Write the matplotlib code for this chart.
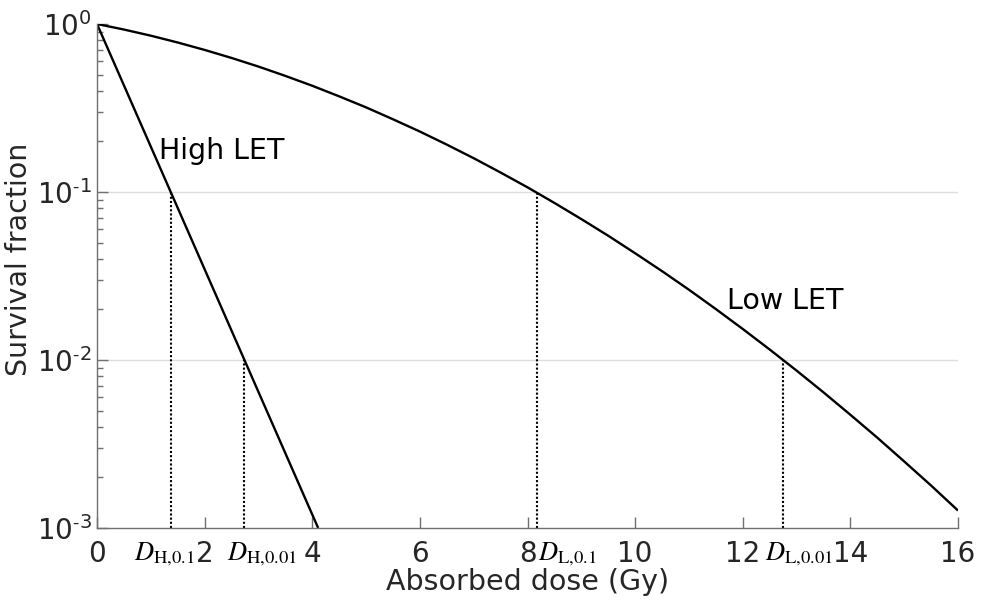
import numpy as np
import matplotlib
matplotlib.use("Agg")
import matplotlib.pyplot as plt
from matplotlib.ticker import FixedLocator, FixedFormatter, LogLocator, NullFormatter

plt.rcParams['font.family'] = 'DejaVu Sans'
plt.rcParams['mathtext.fontset'] = 'stix'

# low LET survival curve (shouldered), read every 0.5 Gy
dose_low = [0, 0.5, 1, 1.5, 2, 2.5, 3, 3.5, 4, 4.5, 5, 5.5, 6, 6.5, 7, 7.5, 8,
            8.5, 9, 9.5, 10, 10.5, 11, 11.5, 12, 12.5, 13, 13.5, 14, 14.5, 15,
            15.5, 16]
surv_low = [1.0, 0.927, 0.852, 0.776, 0.701, 0.628, 0.558, 0.491, 0.429, 0.371,
            0.319, 0.271, 0.229, 0.1915, 0.1589, 0.1306, 0.1066, 0.0861, 0.0690,
            0.0549, 0.0432, 0.0338, 0.0262, 0.0201, 0.0153, 0.01155, 0.00865,
            0.00642, 0.00472, 0.00345, 0.00249, 0.00179, 0.00127]

# high LET: straight line on the log axis
dose_high = [0, 4.11]
surv_high = [1.0, 1e-3]

# doses giving 10% and 1% survival
levels = [0.1, 0.01]
dose_h_marks = [1.37, 2.74]
dose_l_marks = [8.18, 12.75]
mark_labels = [r'$D_{\mathrm{H{,}0.1}}$', r'$D_{\mathrm{H{,}0.01}}$',
               r'$D_{\mathrm{L{,}0.1}}$', r'$D_{\mathrm{L{,}0.01}}$']
mark_label_x = [1.25, 3.07, 8.74, 13.05]

y_ticks = [1e-3, 1e-2, 1e-1, 1]
y_ticklabels = [r'$\mathdefault{10^{\text{-}3}}$', r'$\mathdefault{10^{\text{-}2}}$',
                r'$\mathdefault{10^{\text{-}1}}$', r'$\mathdefault{10^{0}}$']

axcol = '#707070'
txtcol = '#262626'

fig = plt.figure(figsize=(9.83, 6.03), dpi=100)
ax = fig.add_axes([97/983, 1-528/603, (958-97)/983, (528-24)/603])

for lv in levels:
    ax.axhline(lv, color='#dedede', lw=1.0, zorder=0)

for d, lv in zip(dose_h_marks + dose_l_marks, levels + levels):
    ax.plot([d, d], [1e-3, lv], color='black', ls=(0, (1, 1)), lw=1.5)

ax.plot(dose_low, surv_low, color='black', lw=1.7, solid_capstyle='butt')
ax.plot(dose_high, surv_high, color='black', lw=1.7, solid_capstyle='butt')

ax.set_yscale('log')
ax.set_xlim(0, 16)
ax.set_ylim(1e-3, 1)
ax.set_xticks(np.arange(0, 17, 2))
ax.yaxis.set_major_locator(FixedLocator(y_ticks))
ax.yaxis.set_major_formatter(FixedFormatter(y_ticklabels))
ax.yaxis.set_minor_locator(LogLocator(base=10, subs=np.arange(2, 10), numticks=10))
ax.yaxis.set_minor_formatter(NullFormatter())

for s in ['top', 'right']:
    ax.spines[s].set_visible(False)
for s in ['left', 'bottom']:
    ax.spines[s].set_color(axcol)
    ax.spines[s].set_linewidth(1.0)

ax.tick_params(which='major', direction='in', length=8, width=1.0, color=axcol,
               labelsize=20, labelcolor=txtcol)
ax.tick_params(axis='x', which='major', pad=9)
ax.tick_params(axis='y', which='major', pad=4)
ax.tick_params(which='minor', direction='in', length=4.5, width=1.0, color=axcol)

for x, lab in zip(mark_label_x, mark_labels):
    ax.text(x, -0.024, lab, transform=ax.get_xaxis_transform(), ha='center',
            va='top', fontsize=19, color='black')

ax.text(1.15, 0.175, 'High LET', fontsize=20.5, color='black', va='center')
ax.text(11.7, 0.0225, 'Low LET', fontsize=20.5, color='black', va='center')

ax.set_xlabel('Absorbed dose (Gy)', fontsize=20.5, color=txtcol, labelpad=0)
ax.set_ylabel('Survival fraction', fontsize=20.5, color=txtcol)
ax.yaxis.set_label_coords(-0.074, 0.532)

fig.savefig('out.png', dpi=100)
